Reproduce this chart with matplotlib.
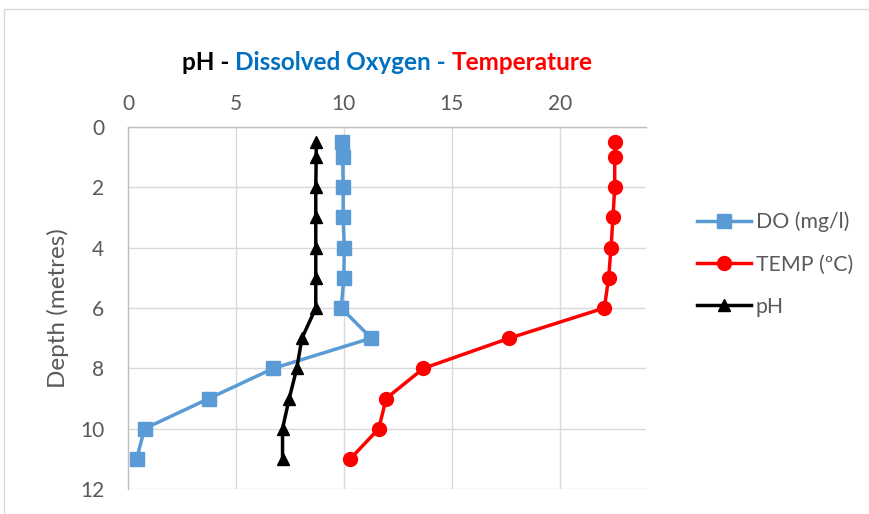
import matplotlib
matplotlib.use("Agg")
import matplotlib.pyplot as plt
from matplotlib.patches import Rectangle

plt.rcParams['font.family'] = ['Lato', 'DejaVu Sans']

# Depth of each sample (m)
depth = [0.5, 1, 2, 3, 4, 5, 6, 7, 8, 9, 10, 11]
# Dissolved oxygen (mg/l)
do_mgl = [9.9, 9.95, 9.97, 9.97, 10.02, 10.0, 9.88, 11.27, 6.74, 3.75, 0.77, 0.4]
# Water temperature (ºC)
temp_c = [22.55, 22.55, 22.55, 22.47, 22.38, 22.27, 22.07, 17.67, 13.69, 11.96, 11.62, 10.3]
# pH
ph = [8.72, 8.72, 8.7, 8.7, 8.7, 8.7, 8.7, 8.06, 7.82, 7.47, 7.16, 7.16]

x_ticks = [0, 5, 10, 15, 20]
y_ticks = [0, 2, 4, 6, 8, 10, 12]

W, H = 869, 514
fig = plt.figure(figsize=(W / 100, H / 100), dpi=100)

# light chart frame
fig.patches.append(Rectangle((4 / W, -0.1), 1.2, 1 - 9 / H + 0.1,
                             transform=fig.transFigure, fill=False,
                             edgecolor='#D9D9D9', linewidth=1.0))

ax = fig.add_axes([128 / W, 1 - 489 / H, (646 - 128) / W, (489 - 127) / H])

blue = '#5B9BD5'
red = '#FF0000'
grid_c = '#D9D9D9'
text_c = '#595959'

ax.plot(do_mgl, depth, color=blue, lw=2.5, marker='s', ms=10, label='DO (mg/l)', zorder=3)
ax.plot(temp_c, depth, color=red, lw=2.5, marker='o', ms=10, label='TEMP (ºC)', zorder=3)
ax.plot(ph, depth, color='black', lw=2.5, marker='^', ms=9, label='pH', zorder=3)

ax.set_xlim(0, 24)
ax.set_ylim(12, 0)
ax.set_xticks(x_ticks)
ax.set_yticks(y_ticks)
ax.xaxis.tick_top()
ax.grid(True, color=grid_c, lw=1.0, zorder=0)
ax.set_axisbelow(True)
for s in ['right', 'bottom']:
    ax.spines[s].set_visible(False)
for s in ['left', 'top']:
    ax.spines[s].set_color('#BFBFBF')
    ax.spines[s].set_linewidth(1.0)
ax.tick_params(axis='both', length=0, labelsize=15, labelcolor=text_c)
ax.tick_params(axis='x', pad=9)
ax.tick_params(axis='y', pad=17)

ax.set_ylabel('Depth (metres)', fontsize=17.5, color=text_c, labelpad=8)

leg = ax.legend(loc='upper left', bbox_to_anchor=(1.083, 0.79), frameon=False,
                fontsize=15.3, labelcolor=text_c, handlelength=2.5,
                handletextpad=0.25, labelspacing=1.05, borderaxespad=0)

# multi-coloured title centred over the plot
parts = [('pH - ', 'black'), ('Dissolved Oxygen - ', '#0070C0'), ('Temperature', red)]
texts = []
prev = None
for s, c in parts:
    if prev is None:
        t = fig.text(0, 1 - 62 / H, s, color=c, fontsize=17.5, fontweight='bold',
                     ha='left', va='center')
    else:
        t = ax.annotate(s, xy=(1, 0), xycoords=prev, color=c, fontsize=17.5,
                        fontweight='bold', ha='left', va='bottom',
                        annotation_clip=False)
    texts.append(t)
    prev = t
fig.canvas.draw()
r = fig.canvas.get_renderer()
x0 = texts[0].get_window_extent(r).x0
x1 = texts[-1].get_window_extent(r).x1
centre = (128 + 646) / 2
texts[0].set_x((centre - (x1 - x0) / 2) / W)

fig.savefig('out.png', dpi=100)
